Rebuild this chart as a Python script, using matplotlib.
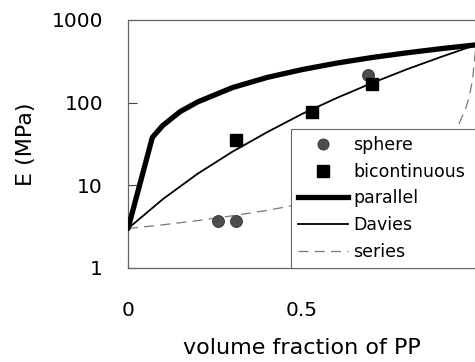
import matplotlib
matplotlib.use("Agg")
import matplotlib.pyplot as plt
from matplotlib.lines import Line2D

# measured points
phi_sphere = [0.26, 0.31, 0.69]
E_sphere = [3.7, 3.7, 215]
phi_bicont = [0.31, 0.53, 0.70]
E_bicont = [35, 78, 170]

# model curves, values
phi_parallel = [0, 0.07, 0.1, 0.15, 0.2, 0.3, 0.4, 0.5, 0.6, 0.7, 0.8, 0.9, 1.0]
E_parallel = [3, 38, 53, 78, 102, 152, 202, 251, 301, 351, 400, 450, 500]

phi_davies = [0, 0.1, 0.2, 0.3, 0.4, 0.5, 0.6, 0.7, 0.8, 0.9, 1.0]
E_davies = [3, 6.8, 13.8, 25.5, 44, 73, 114, 172, 252, 358, 500]

phi_series = [0, 0.1, 0.2, 0.3, 0.4, 0.5, 0.6, 0.7, 0.8, 0.85, 0.9, 0.93, 0.95, 0.97, 0.98, 0.99, 1.0]
E_series = [3, 3.33, 3.74, 4.28, 4.98, 5.96, 7.43, 9.84, 14.6, 19.3, 28.5, 40, 54, 84, 116, 187, 500]

yticks = [1, 10, 100, 1000]
ytick_labels = ["1", "10", "100", "1000"]
xticks = [0, 0.5]
xtick_labels = ["0", "0.5"]

fig = plt.figure(figsize=(4.75, 3.62), dpi=100)
ax = fig.add_axes([0.2695, 0.2597, 0.7326, 0.6851])

ax.plot(phi_series, E_series, color="#777777", lw=0.9, dashes=(8, 5), zorder=2)
ax.plot(phi_davies, E_davies, color="black", lw=1.3, zorder=3)
ax.plot(phi_parallel, E_parallel, color="black", lw=3.8, solid_capstyle="round", zorder=3)
ax.plot(phi_sphere, E_sphere, "o", ms=8.6, mfc="#4d4d4d", mec="#333333", mew=0.6, zorder=4)
ax.plot(phi_bicont, E_bicont, "s", ms=9.2, color="black", zorder=4)

ax.set_yscale("log")
ax.set_xlim(0, 1)
ax.set_ylim(1, 1000)
ax.set_yticks(yticks)
ax.set_yticklabels(ytick_labels)
ax.set_xticks(xticks)
ax.set_xticklabels(xtick_labels)
ax.minorticks_off()
ax.tick_params(axis="y", direction="in", length=6.5, width=0.8, color="#444444", labelsize=14.5, pad=18)
ax.tick_params(axis="x", direction="in", length=5, width=0.8, color="#444444", labelsize=14.5, pad=24)

for side in ["top", "left", "bottom"]:
    ax.spines[side].set_linestyle((0, (1, 1)))
    ax.spines[side].set_color("#666666")
    ax.spines[side].set_linewidth(0.9)
ax.spines["right"].set_visible(False)

ax.set_xlabel("volume fraction of PP", fontsize=16, labelpad=13)
ax.set_ylabel("E (MPa)", fontsize=16, labelpad=11)

handles = [
    Line2D([0], [0], ls="none", marker="o", ms=8, mfc="#4d4d4d", mec="#333333", mew=0.6),
    Line2D([0], [0], ls="none", marker="s", ms=9, color="black"),
    Line2D([0], [0], color="black", lw=3.8),
    Line2D([0], [0], color="black", lw=1.3),
    Line2D([0], [0], color="#777777", lw=0.9, dashes=(8, 5)),
]
labels = ["sphere", "bicontinuous", "parallel", "Davies", "series"]
leg = fig.legend(handles, labels, loc="upper left",
                 bbox_to_anchor=(291 / 475, 1 - 129 / 362, 200 / 475, 0), mode="expand",
                 fontsize=12.5, handlelength=2.9, handletextpad=0.3, labelspacing=0.5,
                 borderpad=0.4, borderaxespad=0, fancybox=False, framealpha=1)
leg.get_frame().set_edgecolor("#666666")
leg.get_frame().set_linewidth(0.8)

fig.savefig("out.png", dpi=100)
